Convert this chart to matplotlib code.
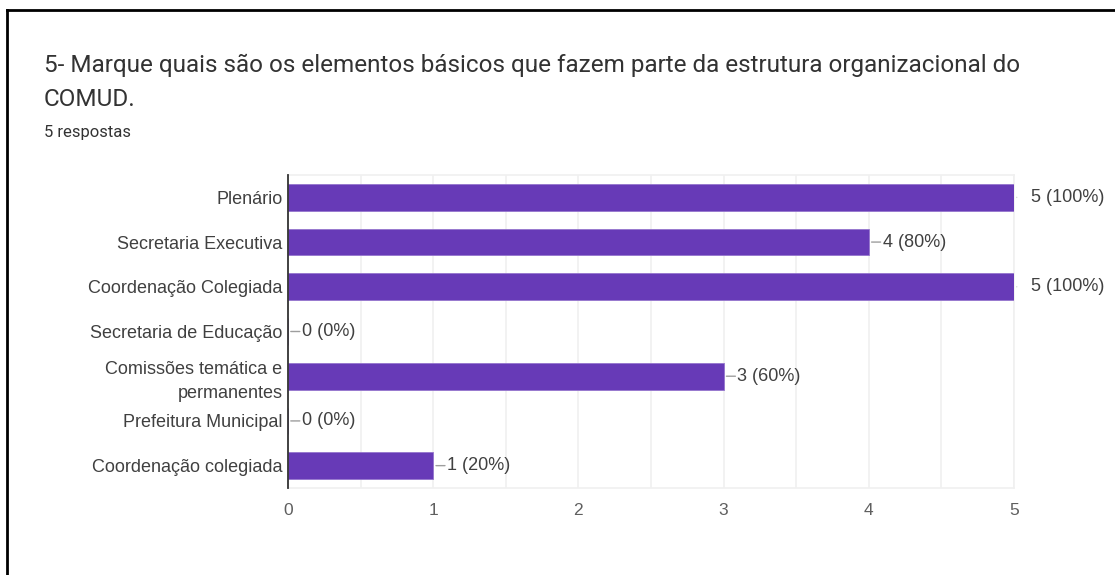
import numpy as np
import matplotlib.pyplot as plt
from matplotlib.lines import Line2D

# respostas por elemento
categorias = ["Plenário", "Secretaria Executiva", "Coordenação Colegiada",
              "Secretaria de Educação", "Comissões temática e\npermanentes",
              "Prefeitura Municipal", "Coordenação colegiada"]
contagens = [5, 4, 5, 0, 3, 0, 1]
total_respostas = 5
ticks_x = [0, 1, 2, 3, 4, 5]

roxo = "#673ab7"
cinza_texto = "#404040"
fonte = ["Liberation Sans", "DejaVu Sans"]

W, H = 1115, 575
fig = plt.figure(figsize=(W / 100, H / 100), dpi=100)
fig.patch.set_facecolor("white")

ax = fig.add_axes([288 / W, 1 - 488 / H, (1014 - 288) / W, (488 - 175) / H])

y = np.arange(len(categorias))
ax.barh(y, contagens, height=0.6, color=roxo, edgecolor="#9575cd", linewidth=0.6, zorder=3)
ax.set_ylim(len(categorias) - 0.5, -0.5)
ax.set_xlim(0, 5)

# grade vertical a cada 0.5
for gx in np.arange(0.5, 5.01, 0.5):
    ax.axvline(gx, color="#f0f0f0", lw=1.2, zorder=1)
ax.set_xticks(ticks_x)
ax.set_xticklabels([str(t) for t in ticks_x], fontsize=12.5, color="#5f5f5f",
                   family=fonte)
ax.tick_params(axis="x", length=0, pad=11)
ax.set_yticks(y)
ax.set_yticklabels(categorias, fontsize=13, color=cinza_texto,
                   family=fonte, linespacing=1.55)
ax.tick_params(axis="y", length=0, pad=4)

for s in ["top", "right", "bottom"]:
    ax.spines[s].set_color("#f0f0f0")
    ax.spines[s].set_linewidth(1.2)
ax.spines["left"].set_color("#333333")
ax.spines["left"].set_linewidth(1.3)
ax.spines["left"].set_zorder(4)

# rótulos de valor com linha guia
for i, v in enumerate(contagens):
    pct = round(100 * v / total_respostas)
    rotulo = f"{v} ({pct}%)"
    if v == max(contagens):
        ax.annotate("", xy=(v, i), xytext=(4, 0), textcoords="offset points",
                    arrowprops=dict(arrowstyle="-", color="#d0d0d0", lw=1),
                    annotation_clip=False)
        ax.annotate(rotulo, xy=(v, i), xytext=(12.5, 0), textcoords="offset points",
                    va="center", ha="left", fontsize=13, color=cinza_texto,
                    family=fonte, annotation_clip=False)
    else:
        ax.annotate("", xy=(v, i), xytext=(10.5, 0), textcoords="offset points",
                    arrowprops=dict(arrowstyle="-", color="#9e9e9e", lw=1),
                    annotation_clip=False)
        ax.annotate(rotulo, xy=(v, i), xytext=(10, 0), textcoords="offset points",
                    va="center", ha="left", fontsize=13, color=cinza_texto,
                    family=fonte, annotation_clip=False)

# título e subtítulo
fig.text(44 / W, 1 - 65 / H, "5- Marque quais são os elementos básicos que fazem parte da estrutura organizacional do",
         fontsize=17.5, color="#333333", family="Roboto", va="center", ha="left")
fig.text(44 / W, 1 - 100 / H, "COMUD.", fontsize=17.5, color="#333333",
         family="Roboto", va="center", ha="left")
fig.text(44 / W, 1 - 132 / H, "5 respostas", fontsize=12, color="#333333",
         family="Roboto", va="center", ha="left")

# moldura preta
fig.add_artist(Line2D([7 / W, 7 / W], [0, 1 - 10 / H], color="black", lw=2,
                      transform=fig.transFigure))
fig.add_artist(Line2D([7 / W, 1], [1 - 10 / H, 1 - 10 / H], color="black", lw=2,
                      transform=fig.transFigure))

fig.savefig("out.png", dpi=100)
